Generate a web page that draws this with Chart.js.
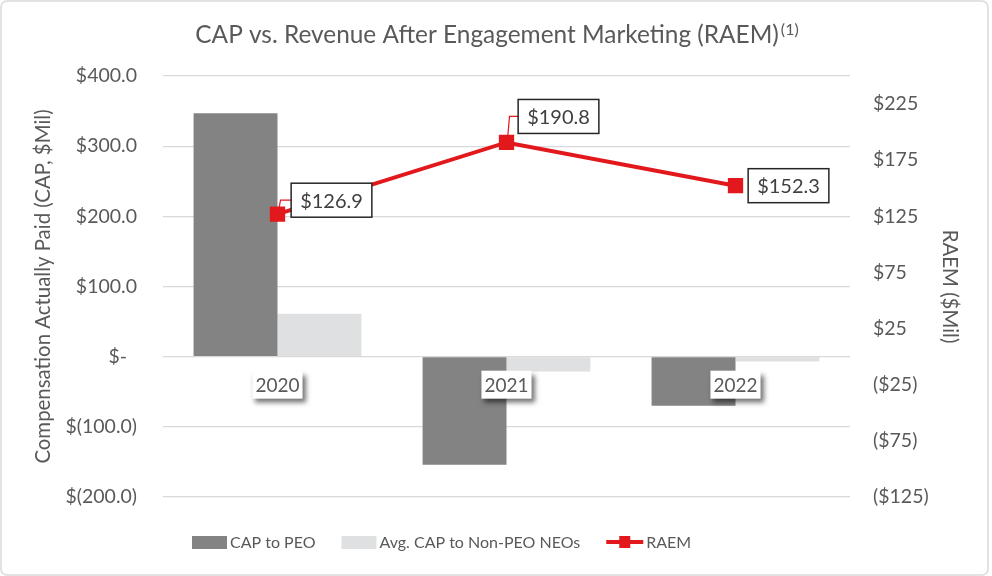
<!DOCTYPE html>
<html><head><meta charset="utf-8">
<script src="https://cdn.jsdelivr.net/npm/chart.js@4.4.1/dist/chart.umd.min.js"></script>
<style>html,body{margin:0;padding:0;background:#fff}#wrap{width:992px;height:576px;position:relative}</style>
</head><body><div id="wrap"><canvas id="c" width="992" height="576"></canvas></div>
<script>
// ---- data ----
const categories = ['2020', '2021', '2022'];
const capToPEO = [347, -154, -70];
const avgCapNonPEO = [61, -21, -7];
const raem = [126.9, 190.8, 152.3];
const leftTicks = [-200, -100, 0, 100, 200, 300, 400];
const rightTicks = [-125, -75, -25, 25, 75, 125, 175, 225];
const seriesNames = ['CAP to PEO', 'Avg. CAP to Non-PEO NEOs', 'RAEM'];
const titleText = 'CAP vs. Revenue After Engagement Marketing (RAEM)';
const titleSup = '(1)';
const leftAxisTitle = 'Compensation Actually Paid (CAP, $Mil)';
const rightAxisTitle = 'RAEM ($Mil)';

// ---- style ----
const FONT = 'Lato, "Open Sans", sans-serif';
const TXT = '#595959';
const DARK = '#838383';
const LIGHT = '#dfe0e1';
const RED = '#e2181c';
const GRID = '#d9d9d9';

function fmtLeft(v) {
  if (v === 0) return '$-  ';
  if (v < 0) return '$(' + Math.abs(v).toFixed(1) + ')';
  return '$' + v.toFixed(1);
}
function fmtRight(v) {
  return v < 0 ? '($' + Math.abs(v) + ')' : '$' + v;
}

const framePlugin = {
  id: 'frame',
  beforeDraw(chart) {
    const ctx = chart.ctx;
    ctx.save();
    ctx.fillStyle = '#fff';
    ctx.fillRect(0, 0, chart.width, chart.height);
    ctx.strokeStyle = GRID;
    ctx.lineWidth = 1.5;
    ctx.beginPath();
    ctx.roundRect(1, 1, 987, 574, 6);
    ctx.stroke();
    ctx.restore();
  }
};

const textPlugin = {
  id: 'texts',
  afterDraw(chart) {
    const ctx = chart.ctx;
    const ca = chart.chartArea;
    ctx.save();
    // title
    ctx.fillStyle = TXT;
    ctx.textBaseline = 'middle';
    ctx.font = '24.4px ' + FONT;
    const mw = ctx.measureText(titleText).width;
    ctx.font = '16px ' + FONT;
    const sw = ctx.measureText(titleSup).width;
    const x0 = 497 - (mw + sw + 2) / 2;
    ctx.textAlign = 'left';
    ctx.font = '24.4px ' + FONT;
    ctx.fillText(titleText, x0, 35);
    ctx.font = '16px ' + FONT;
    ctx.fillText(titleSup, x0 + mw + 2, 30);

    // axis titles
    ctx.font = '20.4px ' + FONT;
    ctx.textAlign = 'center';
    ctx.save();
    ctx.translate(43, (ca.top + ca.bottom) / 2);
    ctx.rotate(-Math.PI / 2);
    ctx.fillText(leftAxisTitle, 0, 0);
    ctx.restore();
    ctx.save();
    ctx.translate(950, (ca.top + ca.bottom) / 2);
    ctx.rotate(Math.PI / 2);
    ctx.fillText(rightAxisTitle, 0, 0);
    ctx.restore();

    // legend
    ctx.font = '16px ' + FONT;
    ctx.textAlign = 'left';
    let lx = 192;
    const ly = 542;
    [0, 1, 2].forEach(i => {
      const ds = chart.data.datasets.find(d => d.label === seriesNames[i]);
      if (ds.type === 'line') {
        ctx.strokeStyle = RED;
        ctx.lineWidth = 4;
        ctx.beginPath();
        ctx.moveTo(lx, ly);
        ctx.lineTo(lx + 37, ly);
        ctx.stroke();
        ctx.fillStyle = RED;
        ctx.fillRect(lx + 13, ly - 6, 11, 12);
        lx += 40;
      } else {
        ctx.fillStyle = ds.backgroundColor;
        ctx.fillRect(lx, ly - 6, 35, 13);
        lx += 38;
      }
      ctx.fillStyle = TXT;
      ctx.fillText(ds.label, lx, ly + 1);
      lx += ctx.measureText(ds.label).width + 26;
    });
    ctx.restore();
  }
};

const labelPlugin = {
  id: 'catLabels',
  afterDatasetsDraw(chart, args, opts) {
    const ctx = chart.ctx;
    const xs = chart.scales.x;
    const ys = chart.scales.y;
    const y0 = ys.getPixelForValue(0) + 28;
    ctx.save();
    ctx.font = '19px ' + FONT;
    ctx.textAlign = 'center';
    ctx.textBaseline = 'middle';
    categories.forEach((c, i) => {
      const x = xs.getPixelForValue(i);
      const w = ctx.measureText(c).width + 6;
      ctx.save();
      ctx.shadowColor = 'rgba(0,0,0,0.55)';
      ctx.shadowBlur = 5;
      ctx.shadowOffsetX = 3;
      ctx.shadowOffsetY = 4;
      ctx.fillStyle = '#fff';
      ctx.fillRect(x - w / 2, y0 - 14, w, 28);
      ctx.restore();
      ctx.fillStyle = TXT;
      ctx.fillText(c, x, y0 + 1);
    });

    // data labels for line
    const meta = chart.getDatasetMeta(chart.data.datasets.findIndex(d => d.type === 'line'));
    ctx.font = '20px ' + FONT;
    meta.data.forEach((pt, i) => {
      const off = opts.offsets[i];
      const txt = '$' + raem[i].toFixed(1);
      const tw = ctx.measureText(txt).width;
      const bw = tw + 18, bh = 34;
      const cx = pt.x + off[0], cy = pt.y + off[1];
      const bl = cx - bw / 2;
      if (off[1] !== 0) {
        ctx.strokeStyle = RED;
        ctx.lineWidth = 1.2;
        ctx.beginPath();
        ctx.moveTo(pt.x + 1, pt.y - 3);
        ctx.lineTo(pt.x + 3, cy);
        ctx.lineTo(bl, cy);
        ctx.stroke();
      }
      ctx.fillStyle = '#fff';
      ctx.fillRect(bl, cy - bh / 2, bw, bh);
      ctx.strokeStyle = '#262626';
      ctx.lineWidth = 1.5;
      ctx.strokeRect(bl, cy - bh / 2, bw, bh);
      ctx.fillStyle = '#404040';
      ctx.fillText(txt, cx, cy + 1);
    });
    ctx.restore();
  }
};

new Chart(document.getElementById('c'), {
  data: {
    labels: categories,
    datasets: [
      { type: 'line', label: seriesNames[2], data: raem, yAxisID: 'y1', order: 0,
        borderColor: RED, backgroundColor: RED, borderWidth: 4, pointStyle: 'rect',
        pointRadius: 8, pointHoverRadius: 8, tension: 0 },
      { type: 'bar', label: seriesNames[0], data: capToPEO, yAxisID: 'y', order: 1,
        backgroundColor: DARK, categoryPercentage: 0.733, barPercentage: 1 },
      { type: 'bar', label: seriesNames[1], data: avgCapNonPEO, yAxisID: 'y', order: 2,
        backgroundColor: LIGHT, categoryPercentage: 0.733, barPercentage: 1 }
    ]
  },
  options: {
    responsive: false,
    animation: false,
    devicePixelRatio: 1,
    layout: { padding: { top: 76, bottom: 79, left: 0, right: 0 } },
    plugins: {
      legend: { display: false },
      title: { display: false },
      tooltip: { enabled: false },
      catLabels: { offsets: [[54, -14], [52, -26], [53, 0]] }
    },
    scales: {
      x: { display: false, offset: true },
      y: {
        position: 'left', min: -200, max: 400,
        afterBuildTicks(s) { s.ticks = leftTicks.map(v => ({ value: v })); },
        afterFit(s) { s.width = 163; },
        grid: { color: GRID, lineWidth: 1.3, drawTicks: false },
        border: { display: false },
        ticks: { padding: 26, color: TXT, font: { family: FONT, size: 19.5 }, callback: v => fmtLeft(v) }
      },
      y1: {
        position: 'right', min: -125, max: 250,
        afterBuildTicks(s) { s.ticks = rightTicks.map(v => ({ value: v })); },
        afterFit(s) { s.width = 142; },
        grid: { display: false, drawTicks: false },
        border: { display: false },
        ticks: { padding: 23, color: TXT, font: { family: FONT, size: 19.5 }, callback: v => fmtRight(v) }
      }
    }
  },
  plugins: [framePlugin, labelPlugin, textPlugin]
});
</script>
</body></html>
